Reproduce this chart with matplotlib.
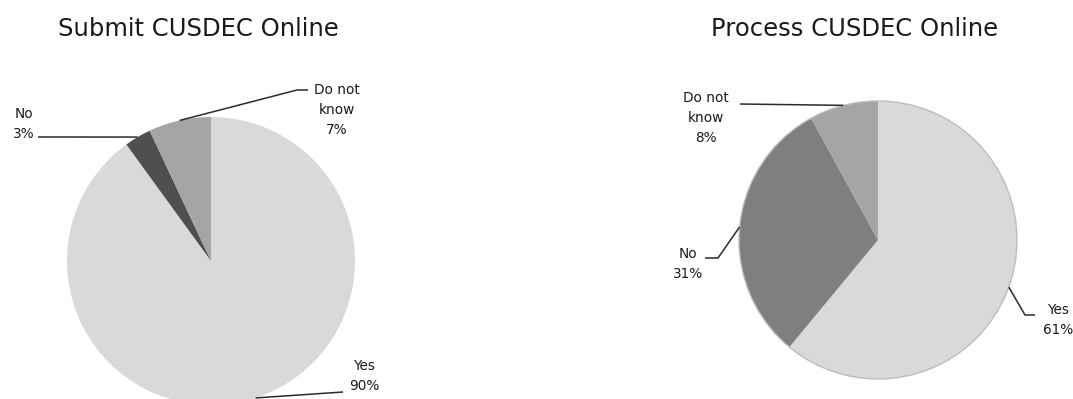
import numpy as np
import matplotlib
matplotlib.use('Agg')
import matplotlib.pyplot as plt
from matplotlib.patches import Circle

categories = ['Yes', 'No', 'Do not know']
label_text = ['Yes', 'No', 'Do not\nknow']

submit_title = 'Submit CUSDEC Online'
submit_values = [90, 3, 7]
submit_colors = ['#d9d9d9', '#4f4f4f', '#a5a5a5']

process_title = 'Process CUSDEC Online'
process_values = [61, 31, 8]
process_colors = ['#d9d9d9', '#7f7f7f', '#a5a5a5']

W, H = 1073, 399
fig = plt.figure(figsize=(W / 100, H / 100), dpi=100)
ax = fig.add_axes([0, 0, 1, 1])


def py(y):
    # pixel rows are counted from the top
    return H - y


def draw_pie(values, colors, center, radius, outline=None):
    wedges, _ = ax.pie(values, colors=colors, startangle=90, counterclock=False,
                       center=center, radius=radius, frame=True,
                       wedgeprops=dict(linewidth=0))
    if outline:
        ax.add_patch(Circle(center, radius, fill=False, edgecolor=outline, lw=1.0))
    return wedges


def edge_point(w):
    mid = np.deg2rad((w.theta1 + w.theta2) / 2)
    return w.center[0] + w.r * np.cos(mid), w.center[1] + w.r * np.sin(mid)


def label(w, value, name, text_xy, path):
    # leader line from the wedge edge through the elbow points to the text
    x0, y0 = edge_point(w)
    xs = [x0] + [p[0] for p in path]
    ys = [y0] + [py(p[1]) for p in path]
    ax.plot(xs, ys, color='#2b2b2b', lw=1.1, solid_capstyle='butt')
    ax.text(text_xy[0], py(text_xy[1]), f'{name}\n{value}%', ha='center', va='center',
            fontsize=9.8, linespacing=1.55, color='#1a1a1a')


# left pie
lw_ = draw_pie(submit_values, submit_colors, (211, py(261)), 144)
ax.text(198, py(29), submit_title, ha='center', va='center', fontsize=17.5, color='#1a1a1a')
label(lw_[0], submit_values[0], label_text[0], (364, 376), [(343, 392)])
label(lw_[1], submit_values[1], label_text[1], (24, 124), [(38, 137)])
label(lw_[2], submit_values[2], label_text[2], (337, 110), [(297, 90), (308, 90)])

# right pie
rw = draw_pie(process_values, process_colors, (878, py(240)), 139, outline='#bdbdbd')
ax.text(855, py(29), process_title, ha='center', va='center', fontsize=17.5, color='#1a1a1a')
label(rw[0], process_values[0], label_text[0], (1058, 320), [(1025, 315), (1035, 315)])
label(rw[1], process_values[1], label_text[1], (688, 264), [(718, 258), (705, 258)])
label(rw[2], process_values[2], label_text[2], (706, 118), [(740, 104)])

ax.set_xlim(0, W)
ax.set_ylim(0, H)
ax.set_aspect('auto')
ax.axis('off')

fig.savefig('out.png', dpi=100, facecolor='white')
